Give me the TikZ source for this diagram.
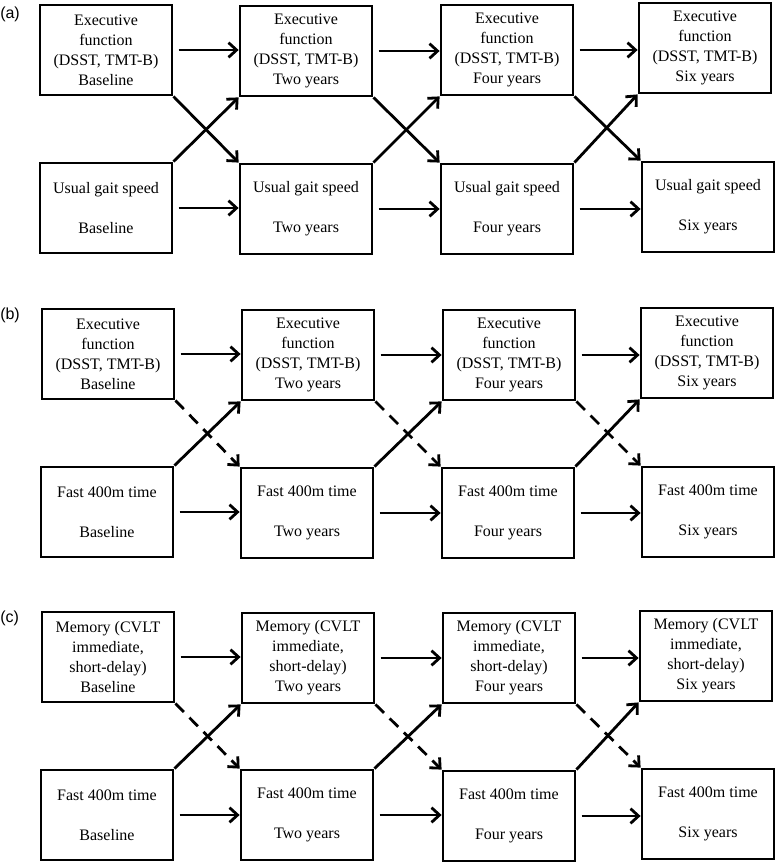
\documentclass[tikz,border=0pt]{standalone}
\usepackage{fontspec}
\setmainfont{Liberation Serif}
\newfontfamily\panelfont{Liberation Sans}
\usetikzlibrary{arrows.meta}

\begin{document}
\begin{tikzpicture}[x=0.75pt, y=-0.75pt, font=\fontsize{12}{15}\selectfont,
  box/.style={draw, line width=2.1pt, minimum width=99pt, minimum height=67.5pt, align=center, inner sep=2pt},
  link/.style={line width=2.1pt, -{Straight Barb[length=6pt, width=11pt]}},
  dashlink/.style={link, dash pattern=on 9pt off 6pt},
  tag/.style={font=\panelfont\fontsize{12}{14}\selectfont, anchor=west, inner sep=0pt}]
\useasboundingbox (0,0) rectangle (778,866);
% (a)
\node[tag] (la) at (0,14) {(a)};
\node[box] (efa1) at (106,50) {Executive\\function\\(DSST, TMT-B)\\Baseline};
\node[box] (efa2) at (306,51) {Executive\\function\\(DSST, TMT-B)\\Two years};
\node[box] (efa3) at (507,50) {Executive\\function\\(DSST, TMT-B)\\Four years};
\node[box] (efa4) at (705,48) {Executive\\function\\(DSST, TMT-B)\\Six years};
\node[box] (gta1) at (106,208) {Usual gait speed\\[15pt]Baseline};
\node[box] (gta2) at (306,209) {Usual gait speed\\[15pt]Two years};
\node[box] (gta3) at (507,209) {Usual gait speed\\[15pt]Four years};
\node[box] (gta4) at (708,207) {Usual gait speed\\[15pt]Six years};
\draw[link, shorten <=4pt] (efa1.east) -- (efa1.east -| efa2.west);
\draw[link, shorten <=4pt] (efa2.east) -- (efa2.east -| efa3.west);
\draw[link, shorten <=4pt] (efa3.east) -- (efa3.east -| efa4.west);
\draw[link, shorten <=4pt] (gta1.east) -- (gta1.east -| gta2.west);
\draw[link, shorten <=4pt] (gta2.east) -- (gta2.east -| gta3.west);
\draw[link, shorten <=4pt] (gta3.east) -- (gta3.east -| gta4.west);
\draw[link] (efa1.south east) -- (gta2.north west);
\draw[link] (efa2.south east) -- (gta3.north west);
\draw[link] (efa3.south east) -- (gta4.north west);
\draw[link] (gta1.north east) -- (efa2.south west);
\draw[link] (gta2.north east) -- (efa3.south west);
\draw[link] (gta3.north east) -- (efa4.south west);
% (b)
\node[tag] (lb) at (0,315) {(b)};
\node[box] (efb1) at (108,354) {Executive\\function\\(DSST, TMT-B)\\Baseline};
\node[box] (efb2) at (308,355) {Executive\\function\\(DSST, TMT-B)\\Two years};
\node[box] (efb3) at (509,355) {Executive\\function\\(DSST, TMT-B)\\Four years};
\node[box] (efb4) at (707,353) {Executive\\function\\(DSST, TMT-B)\\Six years};
\node[box] (gtb1) at (107,512) {Fast 400m time\\[15pt]Baseline};
\node[box] (gtb2) at (307,513) {Fast 400m time\\[15pt]Two years};
\node[box] (gtb3) at (508,513) {Fast 400m time\\[15pt]Four years};
\node[box] (gtb4) at (708,512) {Fast 400m time\\[15pt]Six years};
\draw[link, shorten <=4pt] (efb1.east) -- (efb1.east -| efb2.west);
\draw[link, shorten <=4pt] (efb2.east) -- (efb2.east -| efb3.west);
\draw[link, shorten <=4pt] (efb3.east) -- (efb3.east -| efb4.west);
\draw[link, shorten <=4pt] (gtb1.east) -- (gtb1.east -| gtb2.west);
\draw[link, shorten <=4pt] (gtb2.east) -- (gtb2.east -| gtb3.west);
\draw[link, shorten <=4pt] (gtb3.east) -- (gtb3.east -| gtb4.west);
\draw[dashlink] (efb1.south east) -- (gtb2.north west);
\draw[dashlink] (efb2.south east) -- (gtb3.north west);
\draw[dashlink] (efb3.south east) -- (gtb4.north west);
\draw[link] (gtb1.north east) -- (efb2.south west);
\draw[link] (gtb2.north east) -- (efb3.south west);
\draw[link] (gtb3.north east) -- (efb4.south west);
% (c)
\node[tag] (lc) at (0,618) {(c)};
\node[box] (mmc1) at (108,657) {Memory (CVLT\\immediate,\\short-delay)\\Baseline};
\node[box] (mmc2) at (308,658) {Memory (CVLT\\immediate,\\short-delay)\\Two years};
\node[box] (mmc3) at (509,658) {Memory (CVLT\\immediate,\\short-delay)\\Four years};
\node[box] (mmc4) at (706,656) {Memory (CVLT\\immediate,\\short-delay)\\Six years};
\node[box] (gtc1) at (107,815) {Fast 400m time\\[15pt]Baseline};
\node[box] (gtc2) at (307,815) {Fast 400m time\\[15pt]Two years};
\node[box] (gtc3) at (509,816) {Fast 400m time\\[15pt]Four years};
\node[box] (gtc4) at (708,814) {Fast 400m time\\[15pt]Six years};
\draw[link, shorten <=4pt] (mmc1.east) -- (mmc1.east -| mmc2.west);
\draw[link, shorten <=4pt] (mmc2.east) -- (mmc2.east -| mmc3.west);
\draw[link, shorten <=4pt] (mmc3.east) -- (mmc3.east -| mmc4.west);
\draw[link, shorten <=4pt] (gtc1.east) -- (gtc1.east -| gtc2.west);
\draw[link, shorten <=4pt] (gtc2.east) -- (gtc2.east -| gtc3.west);
\draw[link, shorten <=4pt] (gtc3.east) -- (gtc3.east -| gtc4.west);
\draw[dashlink] (mmc1.south east) -- (gtc2.north west);
\draw[dashlink] (mmc2.south east) -- (gtc3.north west);
\draw[dashlink] (mmc3.south east) -- (gtc4.north west);
\draw[link] (gtc1.north east) -- (mmc2.south west);
\draw[link] (gtc2.north east) -- (mmc3.south west);
\draw[link] (gtc3.north east) -- (mmc4.south west);
\end{tikzpicture}
\end{document}
